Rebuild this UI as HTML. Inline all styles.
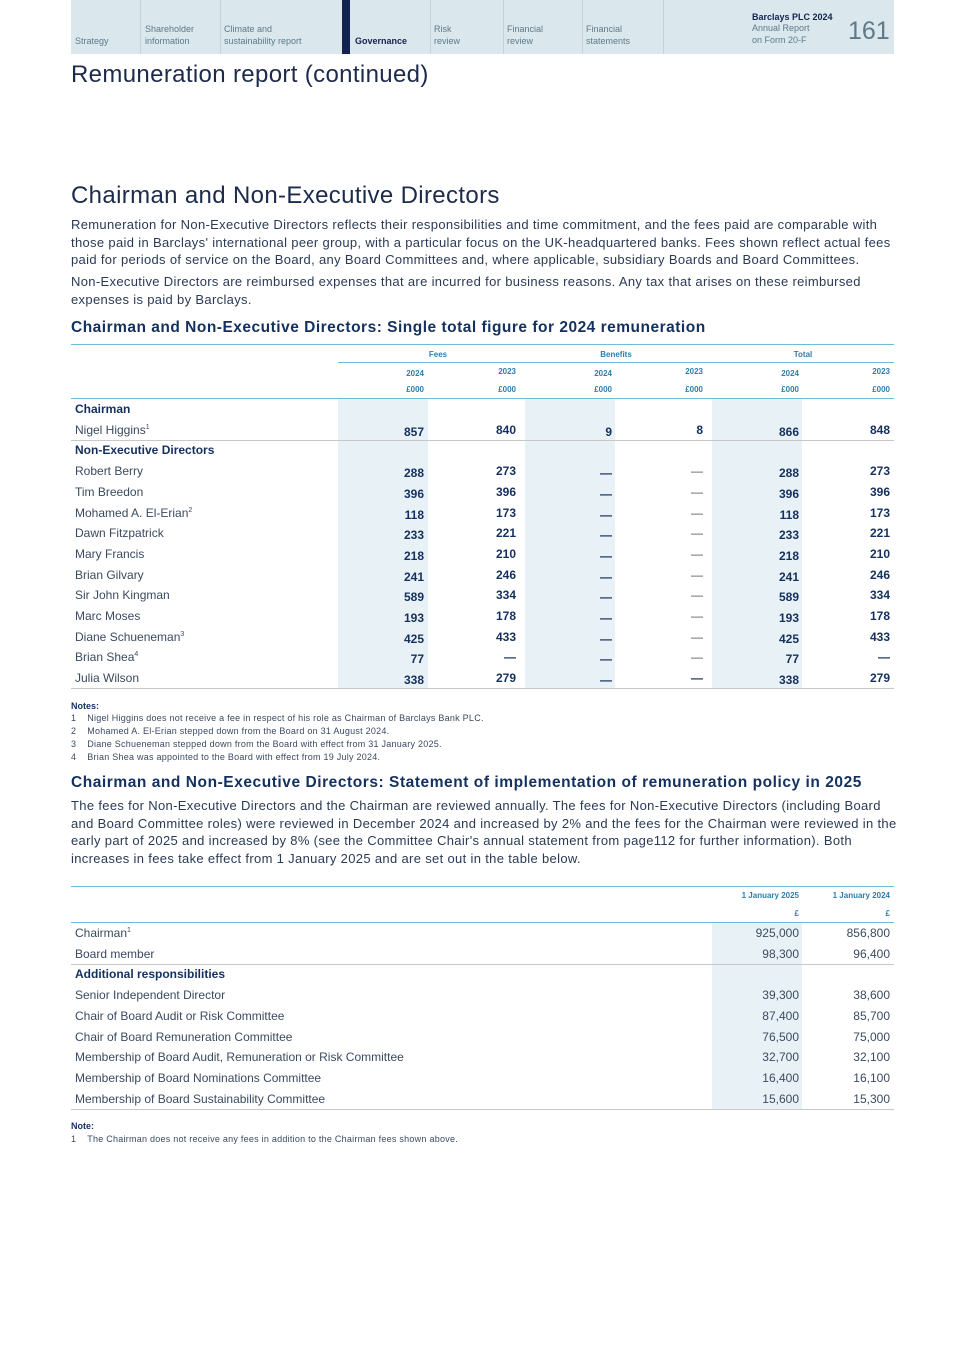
<!DOCTYPE html>
<html><head><meta charset="utf-8"><style>
*{margin:0;padding:0;box-sizing:border-box}
body{width:965px;height:1365px;background:#fff;font-family:"Liberation Sans",sans-serif;color:#1c2b4a;position:relative;overflow:hidden}
.a{position:absolute;white-space:nowrap}
.nav{position:absolute;top:0;left:71px;width:823px;height:54px;background:#dae7ed}
.nav .d{position:absolute;top:0;width:1px;height:54px;background:#c2d3dc}
.nav .t{position:absolute;font-size:9px;color:#5e7a8a;line-height:11.5px;bottom:7px}
.h1{font-size:24px;color:#1c2b4a;font-weight:300;letter-spacing:0.35px}
.p{font-size:13px;line-height:17.5px;color:#2a3a55;left:71px;width:830px;white-space:normal;letter-spacing:0.33px}
.h3{font-size:15.5px;font-weight:bold;color:#14305e;left:71px;letter-spacing:0.5px}
.hd{font-size:8px;font-weight:bold;color:#2a7fae;text-align:right}
.sh{position:absolute;background:#e8f2f6}
.ln{position:absolute;height:1px;background:#c8c8c8;left:71px;width:823px}
.bl{position:absolute;height:1px;background:#6fbcd6}
.r{font-size:12px;color:#3a4a60}
.b{font-size:12px;font-weight:bold;color:#14305e}
.n{font-size:12px;font-weight:bold;color:#14305e;text-align:right;width:60px}
.m{font-size:12px;color:#3a4a60;text-align:right;width:80px}
.note{font-size:9px;color:#3a4a60;letter-spacing:0.25px}
</style></head><body>
<div class="nav">
<div class="d" style="left:69px"></div><div class="d" style="left:149px"></div>
<div style="position:absolute;left:271px;top:0;width:8px;height:54px;background:#14224f"></div>
<div class="d" style="left:359px"></div><div class="d" style="left:432px"></div><div class="d" style="left:511px"></div><div class="d" style="left:592px"></div>
<div class="t" style="left:4px">Strategy</div>
<div class="t" style="left:74px">Shareholder<br>information</div>
<div class="t" style="left:153px">Climate and<br>sustainability report</div>
<div class="t" style="left:284px;font-weight:bold;color:#14224f">Governance</div>
<div class="t" style="left:363px">Risk<br>review</div>
<div class="t" style="left:436px">Financial<br>review</div>
<div class="t" style="left:515px">Financial<br>statements</div>
<div class="t" style="left:681px;bottom:8px"><b style="color:#14224f">Barclays PLC 2024</b><br>Annual Report<br>on Form 20-F</div>
<div class="a" style="left:777px;top:17px;font-size:25px;font-weight:300;color:#5e7a8a">161</div>
</div>
<div class="a h1" style="left:71px;top:61px">Remuneration report (continued)</div>
<div class="a h1" style="left:71px;top:182px">Chairman and Non-Executive Directors</div>
<div class="a p" style="top:216px">Remuneration for Non-Executive Directors reflects their responsibilities and time commitment, and the fees paid are comparable with those paid in Barclays' international peer group, with a particular focus on the UK-headquartered banks. Fees shown reflect actual fees paid for periods of service on the Board, any Board Committees and, where applicable, subsidiary Boards and Board Committees.</div>
<div class="a p" style="top:273px">Non-Executive Directors are reimbursed expenses that are incurred for business reasons. Any tax that arises on these reimbursed expenses is paid by Barclays.</div>
<div class="a h3" style="top:319px">Chairman and Non-Executive Directors: Single total figure for 2024 remuneration</div>

<div class="sh" style="left:338px;top:398px;width:90px;height:290px"></div>
<div class="sh" style="left:525px;top:398px;width:90px;height:290px"></div>
<div class="sh" style="left:712px;top:398px;width:90px;height:290px"></div>
<div class="bl" style="left:71px;top:344px;width:823px"></div>
<div class="bl" style="left:338px;top:362px;width:556px"></div>
<div class="bl" style="left:71px;top:398px;width:823px"></div>
<div class="ln" style="top:440px"></div>
<div class="ln" style="top:688px"></div>
<div class="a hd" style="left:338px;top:350px;width:200px;text-align:center">Fees</div>
<div class="a hd" style="left:516px;top:350px;width:200px;text-align:center">Benefits</div>
<div class="a hd" style="left:703px;top:350px;width:200px;text-align:center">Total</div>
<div class="a hd" style="left:364px;top:369px;width:60px">2024</div><div class="a hd" style="left:364px;top:385px;width:60px">£000</div>
<div class="a hd" style="left:456px;top:367px;width:60px">2023</div><div class="a hd" style="left:456px;top:385px;width:60px">£000</div>
<div class="a hd" style="left:552px;top:369px;width:60px">2024</div><div class="a hd" style="left:552px;top:385px;width:60px">£000</div>
<div class="a hd" style="left:643px;top:367px;width:60px">2023</div><div class="a hd" style="left:643px;top:385px;width:60px">£000</div>
<div class="a hd" style="left:739px;top:369px;width:60px">2024</div><div class="a hd" style="left:739px;top:385px;width:60px">£000</div>
<div class="a hd" style="left:830px;top:367px;width:60px">2023</div><div class="a hd" style="left:830px;top:385px;width:60px">£000</div>

<div id="t1"></div>
<script>
var rows=[["Chairman",null],["Nigel Higgins<sup>1</sup>",["857","840","9","8","866","848"]],["Non-Executive Directors",null],
["Robert Berry",["288","273","—","—","288","273"]],["Tim Breedon",["396","396","—","—","396","396"]],["Mohamed A. El-Erian<sup>2</sup>",["118","173","—","—","118","173"]],
["Dawn Fitzpatrick",["233","221","—","—","233","221"]],["Mary Francis",["218","210","—","—","218","210"]],["Brian Gilvary",["241","246","—","—","241","246"]],
["Sir John Kingman",["589","334","—","—","589","334"]],["Marc Moses",["193","178","—","—","193","178"]],["Diane Schueneman<sup>3</sup>",["425","433","—","—","425","433"]],
["Brian Shea<sup>4</sup>",["77","—","—","—","77","—"]],["Julia Wilson",["338","279","—","—","338","279"]]];
var rx=[424,516,612,703,799,890],h="";
rows.forEach(function(r,i){var y=402+i*20.7;
 if(!r[1]){h+='<div class="a b" style="left:75px;top:'+y+'px">'+r[0]+'</div>';}
 else{h+='<div class="a r" style="left:75px;top:'+y+'px">'+r[0].replace('<sup>','<sup style="font-size:7px">')+'</div>';
  r[1].forEach(function(v,j){var yy=y+(j%2==0?2:0);var light=(j==3&&i>2&&i<13);
   h+='<div class="a n" style="left:'+(rx[j]-60)+'px;top:'+yy+'px;'+(light?'font-weight:normal;color:#555':'')+'">'+v+'</div>';});}
});
document.getElementById('t1').outerHTML=h;
</script>

<div class="a" style="left:71px;top:701px;font-size:9px;font-weight:bold;color:#14305e">Notes:</div>
<div class="a note" style="left:71px;top:713px">1&nbsp;&nbsp;&nbsp;&nbsp;Nigel Higgins does not receive a fee in respect of his role as Chairman of Barclays Bank PLC.</div>
<div class="a note" style="left:71px;top:726px">2&nbsp;&nbsp;&nbsp;&nbsp;Mohamed A. El-Erian stepped down from the Board on 31 August 2024.</div>
<div class="a note" style="left:71px;top:739px">3&nbsp;&nbsp;&nbsp;&nbsp;Diane Schueneman stepped down from the Board with effect from 31 January 2025.</div>
<div class="a note" style="left:71px;top:752px">4&nbsp;&nbsp;&nbsp;&nbsp;Brian Shea was appointed to the Board with effect from 19 July 2024.</div>

<div class="a h3" style="top:774px;letter-spacing:0.55px">Chairman and Non-Executive Directors: Statement of implementation of remuneration policy in 2025</div>
<div class="a p" style="top:797px">The fees for Non-Executive Directors and the Chairman are reviewed annually. The fees for Non-Executive Directors (including Board and Board Committee roles) were reviewed in December 2024 and increased by 2% and the fees for the Chairman were reviewed in the early part of 2025 and increased by 8% (see the Committee Chair's annual statement from page112 for further information). Both increases in fees take effect from 1 January 2025 and are set out in the table below.</div>

<div class="sh" style="left:712px;top:923px;width:90px;height:186px"></div>
<div class="bl" style="left:71px;top:886px;width:823px"></div>
<div class="bl" style="left:71px;top:922px;width:823px"></div>
<div class="ln" style="top:964px"></div>
<div class="ln" style="top:1109px"></div>
<div class="a hd" style="left:679px;top:891px;width:120px">1 January 2025</div>
<div class="a hd" style="left:770px;top:891px;width:120px">1 January 2024</div>
<div class="a hd" style="left:679px;top:909px;width:120px">£</div>
<div class="a hd" style="left:770px;top:909px;width:120px">£</div>
<div id="t2"></div>
<script>
var r2=[["Chairman<sup style='font-size:7px'>1</sup>","925,000","856,800"],["Board member","98,300","96,400"],["Additional responsibilities"],
["Senior Independent Director","39,300","38,600"],["Chair of Board Audit or Risk Committee","87,400","85,700"],["Chair of Board Remuneration Committee","76,500","75,000"],
["Membership of Board Audit, Remuneration or Risk Committee","32,700","32,100"],["Membership of Board Nominations Committee","16,400","16,100"],["Membership of Board Sustainability Committee","15,600","15,300"]];
var g="";r2.forEach(function(r,i){var y=926+i*20.7;
 if(r.length==1)g+='<div class="a b" style="left:75px;top:'+y+'px">'+r[0]+'</div>';
 else{g+='<div class="a r" style="left:75px;top:'+y+'px">'+r[0]+'</div><div class="a m" style="left:719px;top:'+y+'px">'+r[1]+'</div><div class="a m" style="left:810px;top:'+y+'px">'+r[2]+'</div>';}});
document.getElementById('t2').outerHTML=g;
</script>
<div class="a" style="left:71px;top:1121px;font-size:9px;font-weight:bold;color:#14305e">Note:</div>
<div class="a note" style="left:71px;top:1134px">1&nbsp;&nbsp;&nbsp;&nbsp;The Chairman does not receive any fees in addition to the Chairman fees shown above.</div>
</body></html>
